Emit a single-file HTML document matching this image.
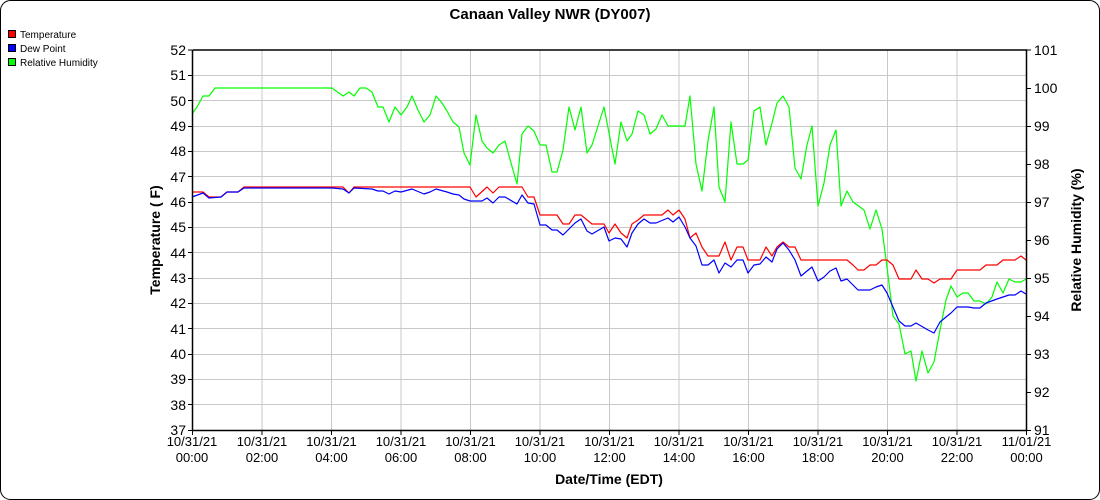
<!DOCTYPE html>
<html><head><meta charset="utf-8"><style>
html,body{margin:0;padding:0;background:#fff;}
svg{display:block;font-family:"Liberation Sans",Arial,sans-serif;}
</style></head><body>
<svg width="1100" height="500" viewBox="0 0 1100 500" xmlns="http://www.w3.org/2000/svg">
<rect x="0.5" y="0.5" width="1099" height="499" rx="10" ry="10" fill="#fff" stroke="#000" stroke-width="1"/>
<text x="550" y="19" text-anchor="middle" font-size="15" font-weight="bold">Canaan Valley NWR (DY007)</text>
<!-- legend -->
<rect x="8.5" y="30.5" width="7" height="7" fill="#f00" stroke="#000"/>
<text x="20" y="38" font-size="10">Temperature</text>
<rect x="8.5" y="44.5" width="7" height="7" fill="#00f" stroke="#000"/>
<text x="20" y="52" font-size="10">Dew Point</text>
<rect x="8.5" y="58.5" width="7" height="7" fill="#0f0" stroke="#000"/>
<text x="20" y="66" font-size="10">Relative Humidity</text>
<!-- grid -->
<g stroke="#c8c8c8" stroke-width="1">
<line x1="192" x2="1026" y1="75.5" y2="75.5"/><line x1="192" x2="1026" y1="100.5" y2="100.5"/><line x1="192" x2="1026" y1="126.5" y2="126.5"/><line x1="192" x2="1026" y1="151.5" y2="151.5"/><line x1="192" x2="1026" y1="176.5" y2="176.5"/><line x1="192" x2="1026" y1="202.5" y2="202.5"/><line x1="192" x2="1026" y1="227.5" y2="227.5"/><line x1="192" x2="1026" y1="252.5" y2="252.5"/><line x1="192" x2="1026" y1="278.5" y2="278.5"/><line x1="192" x2="1026" y1="303.5" y2="303.5"/><line x1="192" x2="1026" y1="328.5" y2="328.5"/><line x1="192" x2="1026" y1="354.5" y2="354.5"/><line x1="192" x2="1026" y1="379.5" y2="379.5"/><line x1="192" x2="1026" y1="404.5" y2="404.5"/>
<line y1="50" y2="430" x1="262" x2="262"/><line y1="50" y2="430" x1="331.5" x2="331.5"/><line y1="50" y2="430" x1="401" x2="401"/><line y1="50" y2="430" x1="470.5" x2="470.5"/><line y1="50" y2="430" x1="540" x2="540"/><line y1="50" y2="430" x1="609.5" x2="609.5"/><line y1="50" y2="430" x1="679" x2="679"/><line y1="50" y2="430" x1="748.5" x2="748.5"/><line y1="50" y2="430" x1="818" x2="818"/><line y1="50" y2="430" x1="887.5" x2="887.5"/><line y1="50" y2="430" x1="957" x2="957"/>
</g>
<!-- series -->
<g fill="none" stroke-width="1.2" stroke-linejoin="round">
<polyline stroke="#0f0" points="192,114 197,107 203,96 209,96 215,88 332,88 343,96 349,92 354,96 360,88 366,88 372,92 378,107 383,107 389,122 395,107 401,115 407,107 412,96 418,110 424,122 430,115 436,96 442,103 447,111 453,122 459,127 464,153 470,165 476,115 482,141 487,148 493,153 499,145 505,141 511,163 517,184 522,134 528,126 534,131 540,145 546,145 552,172 557,172 563,150 569,107 575,130 581,107 587,153 592,145 598,126 604,107 609,133 615,164 621,122 627,141 632,134 638,111 644,115 650,134 656,129 662,115 668,126 685,126 690,96 696,164 702,191 708,141 714,107 719,187 725,202 731,122 737,164 743,164 748,160 754,111 760,107 766,145 772,123 777,103 783,96 789,107 795,168 801,179 807,145 812,126 818,206 824,183 830,145 836,130 841,206 847,191 853,202 864,210 870,229 876,210 882,229 887,267 893,316 899,324 905,354 911,351 916,381 922,351 928,373 934,362 940,330 946,300 951,286 957,297 963,293 968,293 974,301 980,301 986,304 992,297 997,282 1003,293 1009,279 1015,282 1021,282 1026,279"/>
<polyline stroke="#f00" points="192,192 203,192 209,197 221,197 227,192 238,192 244,187 343,187 349,193 354,187 470,187 476,197 487,187 493,193 499,187 522,187 528,197 534,197 540,215 557,215 563,224 569,224 575,215 581,215 592,224 604,224 609,233 615,224 621,233 627,238 632,224 638,220 644,215 662,215 668,210 673,215 679,210 685,219 690,238 696,233 702,247 708,256 719,256 725,242 731,260 737,247 743,247 748,260 760,260 766,247 772,256 777,247 783,242 789,247 795,247 801,260 847,260 853,265 858,270 864,270 870,265 876,265 882,260 887,260 893,265 899,279 911,279 916,270 922,279 928,279 934,283 940,279 951,279 957,270 980,270 986,265 997,265 1003,260 1015,260 1021,256 1026,260"/>
<polyline stroke="#00f" points="192,197 203,193 209,198 221,197 227,192 238,192 244,188 332,188 343,189 349,193 354,188 372,189 378,191 383,191 389,194 395,191 401,192 412,189 424,194 430,192 436,189 447,192 453,194 459,195 464,199 470,201 482,201 487,198 493,203 499,197 505,197 517,204 522,195 528,203 534,204 540,225 546,225 552,230 557,230 563,235 569,229 575,223 581,219 587,231 592,234 604,227 609,241 615,238 621,239 627,247 632,233 638,224 644,219 650,223 656,223 668,218 673,222 679,217 685,227 690,238 696,246 702,265 708,265 714,260 719,273 725,263 731,267 737,260 743,260 748,273 754,265 760,264 766,257 772,262 777,249 783,243 789,250 795,260 801,276 807,271 812,267 818,281 824,277 830,271 836,268 841,281 847,279 853,285 858,290 870,290 876,287 882,285 887,293 893,307 899,321 905,326 911,326 916,323 928,330 934,333 940,322 946,317 951,313 957,307 968,307 974,308 980,308 986,303 997,299 1009,295 1015,295 1021,291 1026,294"/>
</g>
<!-- axes -->
<g stroke="#000" stroke-width="1.5" fill="none">
<polyline points="192.5,50 192.5,430.5 1026.5,430.5 1026.5,50 192.5,50"/>
</g>
<g stroke="#000" stroke-width="1">
<line x1="188" x2="192" y1="50" y2="50"/><line x1="188" x2="192" y1="75.5" y2="75.5"/><line x1="188" x2="192" y1="100.5" y2="100.5"/><line x1="188" x2="192" y1="126.5" y2="126.5"/><line x1="188" x2="192" y1="151.5" y2="151.5"/><line x1="188" x2="192" y1="176.5" y2="176.5"/><line x1="188" x2="192" y1="202.5" y2="202.5"/><line x1="188" x2="192" y1="227.5" y2="227.5"/><line x1="188" x2="192" y1="252.5" y2="252.5"/><line x1="188" x2="192" y1="278.5" y2="278.5"/><line x1="188" x2="192" y1="303.5" y2="303.5"/><line x1="188" x2="192" y1="328.5" y2="328.5"/><line x1="188" x2="192" y1="354.5" y2="354.5"/><line x1="188" x2="192" y1="379.5" y2="379.5"/><line x1="188" x2="192" y1="404.5" y2="404.5"/><line x1="188" x2="192" y1="430.5" y2="430.5"/>
<line x1="1027" x2="1031" y1="50" y2="50"/><line x1="1027" x2="1031" y1="88.5" y2="88.5"/><line x1="1027" x2="1031" y1="126.5" y2="126.5"/><line x1="1027" x2="1031" y1="164.5" y2="164.5"/><line x1="1027" x2="1031" y1="202.5" y2="202.5"/><line x1="1027" x2="1031" y1="240.5" y2="240.5"/><line x1="1027" x2="1031" y1="278.5" y2="278.5"/><line x1="1027" x2="1031" y1="316.5" y2="316.5"/><line x1="1027" x2="1031" y1="354.5" y2="354.5"/><line x1="1027" x2="1031" y1="392.5" y2="392.5"/><line x1="1027" x2="1031" y1="430.5" y2="430.5"/>
<line y1="431" y2="435" x1="192.5" x2="192.5"/><line y1="431" y2="435" x1="262" x2="262"/><line y1="431" y2="435" x1="331.5" x2="331.5"/><line y1="431" y2="435" x1="401" x2="401"/><line y1="431" y2="435" x1="470.5" x2="470.5"/><line y1="431" y2="435" x1="540" x2="540"/><line y1="431" y2="435" x1="609.5" x2="609.5"/><line y1="431" y2="435" x1="679" x2="679"/><line y1="431" y2="435" x1="748.5" x2="748.5"/><line y1="431" y2="435" x1="818" x2="818"/><line y1="431" y2="435" x1="887.5" x2="887.5"/><line y1="431" y2="435" x1="957" x2="957"/><line y1="431" y2="435" x1="1026.5" x2="1026.5"/>
</g>
<g font-size="14" text-anchor="end">
<text x="186" y="55">52</text><text x="186" y="80">51</text><text x="186" y="106">50</text><text x="186" y="131">49</text><text x="186" y="156">48</text><text x="186" y="182">47</text><text x="186" y="207">46</text><text x="186" y="232">45</text><text x="186" y="258">44</text><text x="186" y="283">43</text><text x="186" y="308">42</text><text x="186" y="334">41</text><text x="186" y="359">40</text><text x="186" y="384">39</text><text x="186" y="410">38</text><text x="186" y="435">37</text>
</g>
<g font-size="14" text-anchor="start">
<text x="1034" y="55">101</text><text x="1034" y="93">100</text><text x="1034" y="131">99</text><text x="1034" y="169">98</text><text x="1034" y="207">97</text><text x="1034" y="245">96</text><text x="1034" y="283">95</text><text x="1034" y="321">94</text><text x="1034" y="359">93</text><text x="1034" y="397">92</text><text x="1034" y="435">91</text>
</g>
<g font-size="13" text-anchor="middle">
<text x="192" y="446">10/31/21</text><text x="192" y="462">00:00</text>
<text x="262" y="446">10/31/21</text><text x="262" y="462">02:00</text>
<text x="331.5" y="446">10/31/21</text><text x="331.5" y="462">04:00</text>
<text x="401" y="446">10/31/21</text><text x="401" y="462">06:00</text>
<text x="470.5" y="446">10/31/21</text><text x="470.5" y="462">08:00</text>
<text x="540" y="446">10/31/21</text><text x="540" y="462">10:00</text>
<text x="609.5" y="446">10/31/21</text><text x="609.5" y="462">12:00</text>
<text x="679" y="446">10/31/21</text><text x="679" y="462">14:00</text>
<text x="748.5" y="446">10/31/21</text><text x="748.5" y="462">16:00</text>
<text x="818" y="446">10/31/21</text><text x="818" y="462">18:00</text>
<text x="887.5" y="446">10/31/21</text><text x="887.5" y="462">20:00</text>
<text x="957" y="446">10/31/21</text><text x="957" y="462">22:00</text>
<text x="1026.5" y="446">11/01/21</text><text x="1026.5" y="462">00:00</text>
</g>
<text x="609" y="484" text-anchor="middle" font-size="14" font-weight="bold">Date/Time (EDT)</text>
<text transform="translate(160,240) rotate(-90)" text-anchor="middle" font-size="14" font-weight="bold">Temperature ( F)</text>
<text transform="translate(1081,240) rotate(-90)" text-anchor="middle" font-size="14" font-weight="bold">Relative Humidity (%)</text>
</svg>
</body></html>
